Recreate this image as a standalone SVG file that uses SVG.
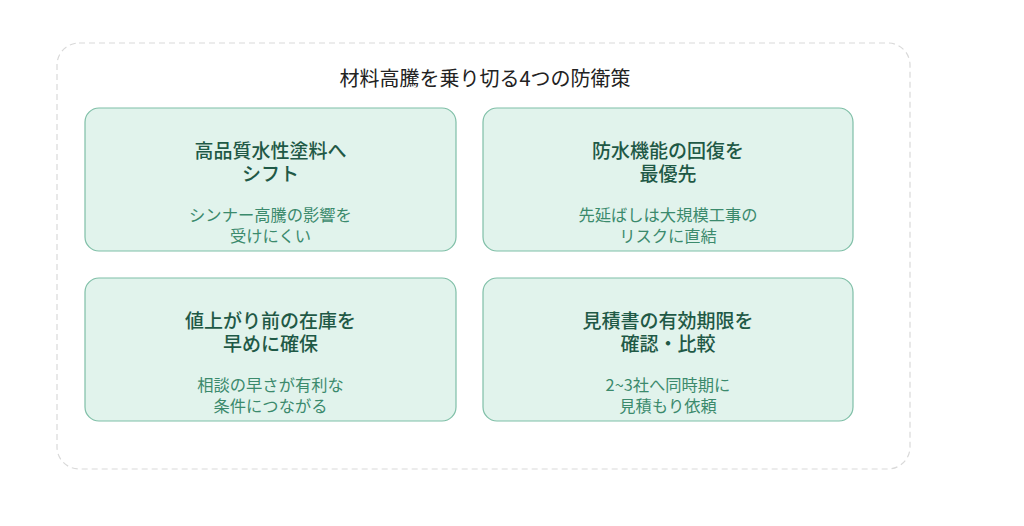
<svg xmlns="http://www.w3.org/2000/svg" width="1024" height="526" viewBox="0 0 1024 526">
<style>
.frame{fill:none;stroke:#d9d9d9;stroke-width:1.2;stroke-dasharray:6 4}
.card{fill:#e1f3ec;stroke:#7fbfa7;stroke-width:1.2}
.title{font-family:"Noto Sans CJK JP","Noto Sans",sans-serif;font-size:20px;fill:#222;text-anchor:middle}
.head{font-family:"Noto Sans CJK JP","Noto Sans",sans-serif;font-size:19px;font-weight:500;fill:#1f5946;text-anchor:middle}
.sub{font-family:"Noto Sans CJK JP","Noto Sans",sans-serif;font-size:16.3px;fill:#3b8a6c;text-anchor:middle}
</style>
<rect width="1024" height="526" fill="#ffffff"/>
<rect class="frame" x="57" y="43" width="853" height="426" rx="22"/>
<text class="title" x="485" y="86">材料高騰を乗り切る4つの防衛策</text>
<g id="connectors"></g>
<g id="card1">
<rect class="card" x="85" y="108" width="371" height="143" rx="14"/>
<text class="head"><tspan x="270.5" y="158">高品質水性塗料へ</tspan><tspan x="270.5" y="181">シフト</tspan></text>
<text class="sub"><tspan x="270.5" y="221">シンナー高騰の影響を</tspan><tspan x="270.5" y="242">受けにくい</tspan></text>
</g>
<g id="card2">
<rect class="card" x="483" y="108" width="370" height="143" rx="14"/>
<text class="head"><tspan x="668" y="158">防水機能の回復を</tspan><tspan x="668" y="181">最優先</tspan></text>
<text class="sub"><tspan x="668" y="221">先延ばしは大規模工事の</tspan><tspan x="668" y="242">リスクに直結</tspan></text>
</g>
<g id="card3">
<rect class="card" x="85" y="278" width="371" height="143" rx="14"/>
<text class="head"><tspan x="270.5" y="328">値上がり前の在庫を</tspan><tspan x="270.5" y="351">早めに確保</tspan></text>
<text class="sub"><tspan x="270.5" y="391">相談の早さが有利な</tspan><tspan x="270.5" y="412">条件につながる</tspan></text>
</g>
<g id="card4">
<rect class="card" x="483" y="278" width="370" height="143" rx="14"/>
<text class="head"><tspan x="668" y="328">見積書の有効期限を</tspan><tspan x="668" y="351">確認・比較</tspan></text>
<text class="sub"><tspan x="668" y="391">2~3社へ同時期に</tspan><tspan x="668" y="412">見積もり依頼</tspan></text>
</g>
</svg>
